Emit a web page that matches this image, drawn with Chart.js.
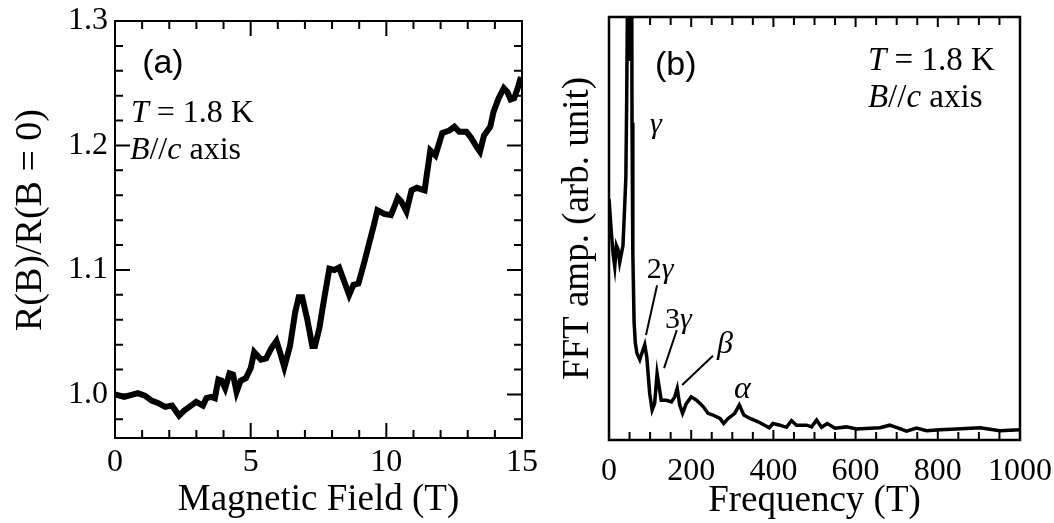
<!DOCTYPE html>
<html>
<head>
<meta charset="utf-8">
<script src="https://cdn.jsdelivr.net/npm/chart.js@4.4.0/dist/chart.umd.min.js"></script>
<style>
  body { margin: 0; background: #fff; }
  #wrap { position: relative; width: 1054px; height: 523px; }
  #ca { position: absolute; left: 0; top: 0; }
  #cb { position: absolute; left: 540px; top: 0; }
</style>
</head>
<body>
<div id="wrap">
  <canvas id="ca" width="540" height="523"></canvas>
  <canvas id="cb" width="514" height="523"></canvas>
</div>
<script>
// panel (a): R(B)/R(B=0) against field
var fieldB = [0, 0.34, 0.84, 1.1, 1.35, 1.6, 1.85, 2.1, 2.36, 2.55, 2.74, 2.99, 3.24, 3.37, 3.55, 3.68,
  3.81, 3.93, 4.06, 4.22, 4.35, 4.48, 4.63, 4.82, 5.0, 5.13, 5.38, 5.57, 5.76, 5.95, 6.08, 6.24,
  6.45, 6.64, 6.77, 6.9, 7.08, 7.27, 7.37, 7.53, 7.71, 7.9, 8.09, 8.26, 8.41, 8.63, 8.79, 8.97,
  9.16, 9.35, 9.54, 9.67, 9.92, 10.17, 10.3, 10.42, 10.55, 10.74, 10.93, 11.12, 11.41, 11.62,
  11.81, 12.06, 12.32, 12.51, 12.69, 12.95, 13.13, 13.32, 13.45, 13.6, 13.83, 13.95, 14.14,
  14.33, 14.46, 14.58, 14.71, 14.84, 14.96];
var ratioR = [1.0, 0.998, 1.001, 0.999, 0.995, 0.993, 0.990, 0.991, 0.983, 0.987, 0.990, 0.994,
  0.991, 0.997, 0.998, 0.997, 1.012, 1.011, 1.005, 1.017, 1.016, 1.002, 1.011, 1.013, 1.021,
  1.034, 1.028, 1.029, 1.037, 1.043, 1.034, 1.022, 1.039, 1.066, 1.078, 1.078, 1.061, 1.039,
  1.039, 1.053, 1.077, 1.101, 1.100, 1.102, 1.093, 1.080, 1.088, 1.089, 1.104, 1.120, 1.136,
  1.148, 1.145, 1.144, 1.151, 1.158, 1.155, 1.147, 1.164, 1.166, 1.164, 1.196, 1.192, 1.210,
  1.212, 1.215, 1.211, 1.211, 1.206, 1.199, 1.195, 1.208, 1.215, 1.227, 1.238, 1.246, 1.243,
  1.237, 1.238, 1.246, 1.255];

// panel (b): FFT amplitude (arb. unit) against frequency
var freqF = [0, 5, 10, 14, 18, 22, 26, 30, 34, 38, 41, 43, 45, 47, 49, 51, 53, 55, 56, 58, 61, 64, 68,
  75, 80, 87, 92, 99, 105, 111, 117, 122, 127, 140, 152, 160, 166, 172, 179, 188, 200, 213, 229,
  241, 253, 270, 279, 290, 306, 317, 328, 343, 363, 390, 399, 416, 432, 444, 456, 481, 493, 505,
  517, 531, 550, 578, 602, 635, 659, 683, 704, 724, 748, 773, 805, 846, 903, 951, 1000];
var ampFFT = [57, 50, 44, 41, 46, 45, 42, 44, 46, 55, 62, 80, 105, 125, 90, 125, 95, 125, 75, 44, 28, 23,
  20.5, 19, 20.5, 22.5, 19.5, 11, 7.1, 8.6, 15.7, 12.6, 9.4, 9.4, 9, 10.2, 12.2, 8.3, 6.3, 8.6,
  10.2, 9.4, 7.9, 6.3, 5.9, 5.1, 3.9, 5.1, 6.3, 8.3, 5.9, 5.1, 4.3, 2.9, 3.9, 3.5, 3.0, 4.6, 3.5,
  3.5, 3.1, 4.7, 3.0, 3.9, 2.8, 3.1, 2.6, 2.8, 2.9, 3.5, 2.8, 2.1, 2.8, 2.2, 2.4, 2.6, 2.9, 2.2, 2.4];

var xTicksA = [0, 5, 10, 15];
var yTicksA = [1.0, 1.1, 1.2, 1.3];
var xTicksB = [0, 200, 400, 600, 800, 1000];

var SERIF = '"Liberation Serif", "Times New Roman", serif';
var SANS = '"Liberation Sans", Arial, sans-serif';
Chart.defaults.color = '#000';

function pairs(xs, ys) {
  return xs.map(function (x, i) { return { x: x, y: ys[i] }; });
}

function isMajor(v, major) {
  return Math.abs(v / major - Math.round(v / major)) < 1e-6;
}

// box frame with inward ticks, like the original plot
var frameTicks = {
  id: 'frameTicks',
  afterDatasetsDraw: function (chart, args, o) {
    var ctx = chart.ctx, a = chart.chartArea, sx = chart.scales.x, sy = chart.scales.y;
    var k, v, p, len;
    ctx.save();
    ctx.strokeStyle = '#000';
    ctx.lineWidth = o.tickWidth;
    ctx.beginPath();
    for (k = Math.ceil(sx.min / o.xStep); k <= Math.floor(sx.max / o.xStep); k++) {
      v = k * o.xStep;
      p = sx.getPixelForValue(v);
      len = isMajor(v, o.xMajor) ? o.major : o.minor;
      ctx.moveTo(p, a.bottom); ctx.lineTo(p, a.bottom - len);
      ctx.moveTo(p, a.top); ctx.lineTo(p, a.top + len);
    }
    if (o.yStep) {
      for (k = Math.ceil(sy.min / o.yStep - 1e-6); k <= Math.floor(sy.max / o.yStep + 1e-6); k++) {
        v = k * o.yStep;
        p = sy.getPixelForValue(v);
        len = isMajor(v, o.yMajor) ? o.major : o.minor;
        ctx.moveTo(a.left, p); ctx.lineTo(a.left + len, p);
        ctx.moveTo(a.right, p); ctx.lineTo(a.right - len, p);
      }
    }
    ctx.stroke();
    ctx.lineWidth = o.frame;
    ctx.strokeRect(a.left, a.top, a.right - a.left, a.bottom - a.top);
    ctx.restore();
  }
};

// text labels and leader lines, placed in data coordinates
var notes = {
  id: 'notes',
  afterDraw: function (chart, args, o) {
    var ctx = chart.ctx, sx = chart.scales.x, sy = chart.scales.y;
    ctx.save();
    ctx.fillStyle = '#000';
    ctx.strokeStyle = '#000';
    ctx.textAlign = 'left';
    (o.texts || []).forEach(function (t) {
      var x = sx.getPixelForValue(t.x), y = sy.getPixelForValue(t.y);
      ctx.textBaseline = t.base || 'alphabetic';
      t.parts.forEach(function (pt) {
        ctx.font = (pt[1] ? 'italic ' : '') + t.size + 'px ' + (t.family || SERIF);
        ctx.fillText(pt[0], x, y);
        x += ctx.measureText(pt[0]).width;
      });
    });
    ctx.lineWidth = 2;
    ctx.beginPath();
    (o.lines || []).forEach(function (l) {
      ctx.moveTo(sx.getPixelForValue(l[0]), sy.getPixelForValue(l[1]));
      ctx.lineTo(sx.getPixelForValue(l[2]), sy.getPixelForValue(l[3]));
    });
    ctx.stroke();
    ctx.restore();
  }
};

function noPad(s) {
  s.paddingLeft = 0; s.paddingRight = 0; s.paddingTop = 0; s.paddingBottom = 0;
}

var chartA = new Chart(document.getElementById('ca').getContext('2d'), {
  type: 'line',
  data: {
    datasets: [{
      data: pairs(fieldB, ratioR),
      borderColor: '#000',
      borderWidth: 6,
      pointRadius: 0,
      tension: 0,
      fill: false
    }]
  },
  plugins: [frameTicks, notes],
  options: {
    responsive: false,
    animation: false,
    devicePixelRatio: 1,
    layout: { padding: { top: 21, right: 18, left: 0, bottom: 0 } },
    plugins: {
      legend: { display: false },
      tooltip: { enabled: false },
      frameTicks: { frame: 2, tickWidth: 2, xStep: 1, xMajor: 5, yStep: 0.02, yMajor: 0.1, major: 15, minor: 8 },
      notes: {
        texts: [
          { x: 1.0, y: 1.266, size: 34, family: SANS, base: 'middle', parts: [['(a)', false]] },
          { x: 0.59, y: 1.219, size: 32, parts: [['T', true], [' = 1.8 K', false]] },
          { x: 0.55, y: 1.189, size: 32, parts: [['B', true], ['//', false], ['c', true], [' axis', false]] }
        ]
      }
    },
    scales: {
      x: {
        type: 'linear', min: 0, max: 15,
        grid: { display: false, drawTicks: false, tickLength: 0 }, border: { display: false },
        afterBuildTicks: function (s) { s.ticks = xTicksA.map(function (v) { return { value: v }; }); },
        ticks: { font: { family: SERIF, size: 32 }, padding: 5, maxRotation: 0, callback: function (v) { return String(v); } },
        title: { display: true, text: 'Magnetic Field (T)', font: { family: SERIF, size: 37 }, padding: { top: 0, bottom: 1 } },
        afterFit: function (s) { s.height = 85; noPad(s); }
      },
      y: {
        type: 'linear', min: 0.965, max: 1.3,
        grid: { display: false, drawTicks: false, tickLength: 0 }, border: { display: false },
        afterBuildTicks: function (s) { s.ticks = yTicksA.map(function (v) { return { value: v }; }); },
        ticks: { font: { family: SERIF, size: 32 }, padding: 7, callback: function (v) { return v.toFixed(1); } },
        title: { display: true, text: '  R(B)/R(B = 0)', font: { family: SERIF, size: 38 }, padding: { top: 8, bottom: 0 } },
        afterFit: function (s) { s.width = 115; noPad(s); }
      }
    }
  }
});

var chartB = new Chart(document.getElementById('cb').getContext('2d'), {
  type: 'line',
  data: {
    datasets: [{
      data: pairs(freqF, ampFFT),
      borderColor: '#000',
      borderWidth: 3.5,
      pointRadius: 0,
      tension: 0,
      fill: false
    }]
  },
  plugins: [frameTicks, notes],
  options: {
    responsive: false,
    animation: false,
    devicePixelRatio: 1,
    layout: { padding: { top: 17, right: 34, left: 0, bottom: 0 } },
    plugins: {
      legend: { display: false },
      tooltip: { enabled: false },
      frameTicks: { frame: 2.5, tickWidth: 2, xStep: 50, xMajor: 200, major: 10, minor: 8 },
      notes: {
        texts: [
          { x: 112, y: 88.4, size: 34, family: SANS, base: 'middle', parts: [['(b)', false]] },
          { x: 630, y: 87.5, size: 33, parts: [['T', true], [' = 1.8 K', false]] },
          { x: 630, y: 78.7, size: 33, parts: [['B', true], ['//', false], ['c', true], [' axis', false]] },
          { x: 100, y: 72.6, size: 30, parts: [['γ', true]] },
          { x: 92, y: 38.3, size: 30, parts: [['2', false], ['γ', true]] },
          { x: 136, y: 26.5, size: 30, parts: [['3', false], ['γ', true]] },
          { x: 263, y: 20.6, size: 32, parts: [['β', true]] },
          { x: 304, y: 9.9, size: 32, parts: [['α', true]] }
        ],
        lines: [
          [117, 36.6, 90, 24.8],
          [165, 26, 134, 17],
          [253, 19.9, 178, 13]
        ]
      }
    },
    scales: {
      x: {
        type: 'linear', min: 0, max: 1000,
        grid: { display: false, drawTicks: false, tickLength: 0 }, border: { display: false },
        afterBuildTicks: function (s) { s.ticks = xTicksB.map(function (v) { return { value: v }; }); },
        ticks: { font: { family: SERIF, size: 32 }, padding: 12, maxRotation: 0, callback: function (v) { return String(v); } },
        title: { display: true, text: 'Frequency (T)', font: { family: SERIF, size: 37 }, padding: { top: 0, bottom: 0 } },
        afterFit: function (s) { s.height = 83; noPad(s); }
      },
      y: {
        type: 'linear', min: 0, max: 100,
        grid: { display: false, drawTicks: false, tickLength: 0 }, border: { display: false },
        ticks: { display: false },
        title: { display: true, text: 'FFT amp. (arb. unit)', font: { family: SERIF, size: 37 }, padding: { top: 16, bottom: 0 } },
        afterFit: function (s) { s.width = 69; noPad(s); }
      }
    }
  }
});
</script>
</body>
</html>
